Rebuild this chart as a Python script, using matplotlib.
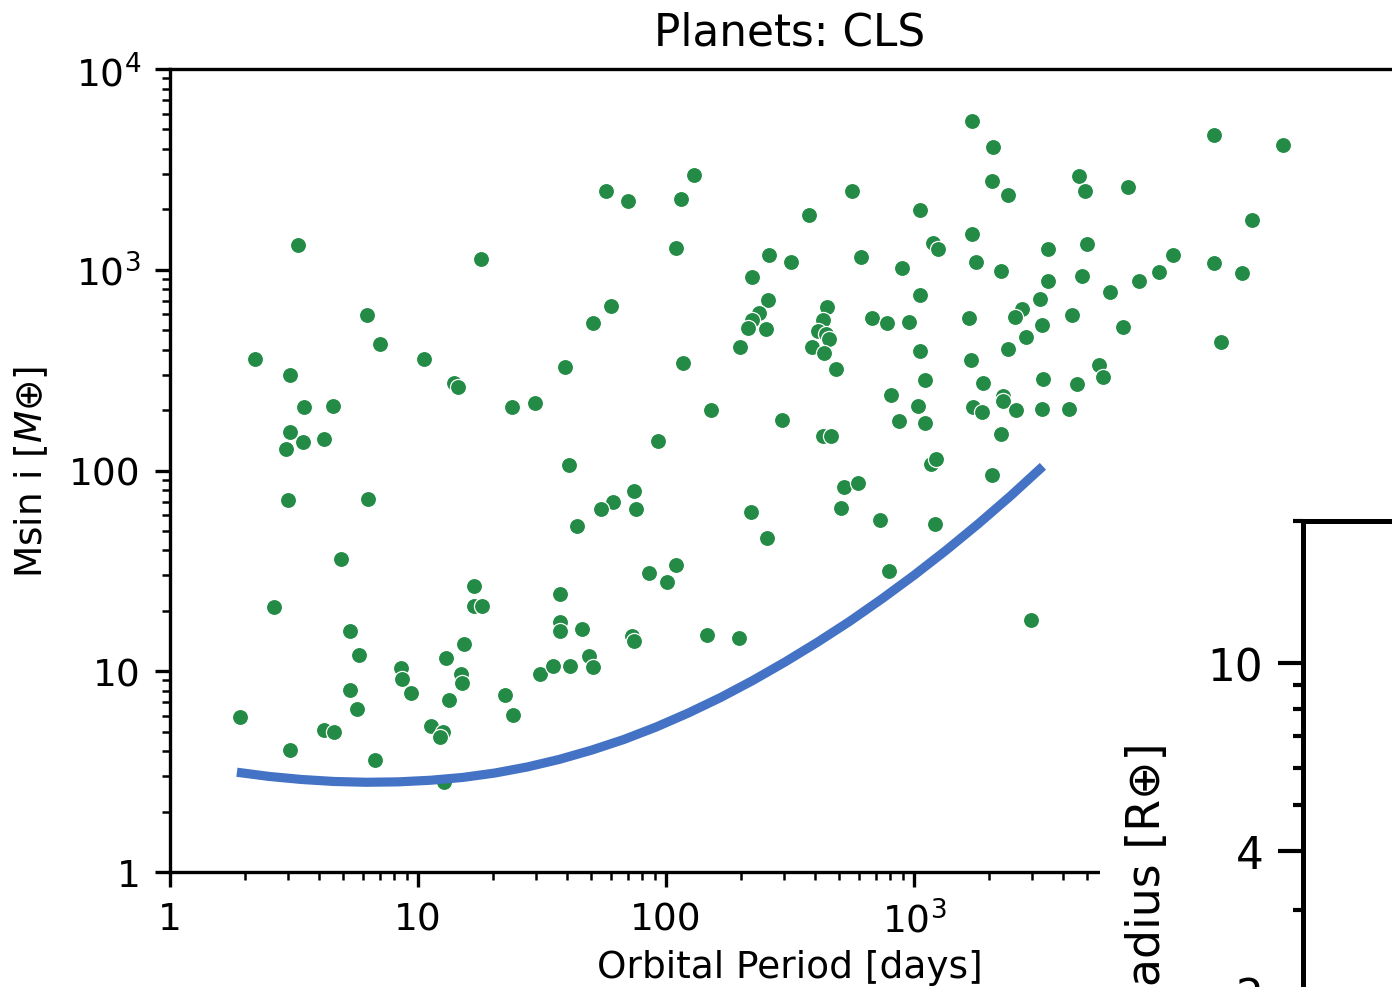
import numpy as np
import matplotlib
matplotlib.use("Agg")
import matplotlib.pyplot as plt
from matplotlib.patches import Rectangle
from matplotlib.ticker import FuncFormatter, LogLocator, FixedLocator, NullFormatter

# planets, stored as log10 values
LOG_PERIOD = [1.758, 1.847, 2.060, 2.113, 0.516, 1.254, 2.040, 0.794, 0.847, 1.778,
              1.706, 0.343, 0.484, 1.024, 1.145, 1.161, 1.593, 2.069, 0.540, 0.657,
              1.379, 1.472, 0.484, 0.536, 0.621, 0.468, 1.968, 1.609, 0.476, 0.798,
              1.871, 1.786, 1.738, 1.879, 1.641, 0.690, 0.419, 1.226, 1.226, 1.258,
              1.573, 1.573, 1.573, 1.661, 1.931, 2.004, 2.040, 1.863, 1.871, 0.726,
              0.762, 1.185, 1.113, 0.931, 0.935, 0.972, 1.173, 1.177, 1.125, 1.351,
              1.383, 1.492, 1.544, 1.613, 1.690, 1.706, 0.726, 0.754, 0.282, 0.621,
              0.661, 0.484, 0.827, 1.052, 1.101, 1.089, 1.105,
              3.234, 3.319, 4.210, 4.488, 3.665, 3.690, 3.863, 3.315, 3.379, 2.750,
              2.577, 3.024, 4.363, 3.234, 2.415, 2.504, 2.786, 3.077, 3.097, 3.540,
              3.698, 3.250, 3.351, 2.952, 4.044, 4.210, 4.323, 2.347, 3.540, 3.677,
              3.907, 3.988, 3.790, 2.411, 3.024, 3.508, 3.435, 3.407, 2.375, 2.347,
              2.331, 2.403, 2.649, 2.633, 2.613, 2.645, 2.657, 2.589, 2.637, 2.685,
              2.831, 2.891, 2.980, 3.222, 3.516, 3.637, 3.843, 3.452, 3.379, 4.238,
              2.298, 3.024, 3.230, 3.044, 3.278, 3.520, 3.657, 3.746, 3.762, 2.907,
              3.359, 3.359, 3.016, 3.238, 3.274, 3.411, 3.516, 3.625, 2.181, 2.468,
              2.940, 3.044, 2.633, 2.665, 3.351, 3.069, 3.089, 3.315, 2.718, 2.774,
              2.343, 2.407, 2.706, 2.863, 3.085, 2.899, 2.165, 2.294, 3.472]
LOG_MSINI = [3.393, 3.343, 3.353, 3.473, 3.124, 3.055, 3.109, 2.776, 2.632, 2.821,
             2.736, 2.557, 2.478, 2.557, 2.438, 2.418, 2.517, 2.537, 2.318, 2.323,
             2.318, 2.338, 2.194, 2.144, 2.159, 2.109, 2.149, 2.030, 1.851, 1.856,
             1.896, 1.841, 1.806, 1.806, 1.726, 1.557, 1.318, 1.423, 1.323, 1.323,
             1.383, 1.244, 1.199, 1.209, 1.488, 1.443, 1.527, 1.174, 1.149, 1.199,
             1.080, 1.134, 1.065, 1.015, 0.960, 0.891, 0.985, 0.940, 0.856, 0.881,
             0.781, 0.985, 1.025, 1.025, 1.075, 1.020, 0.905, 0.811, 0.771, 0.706,
             0.697, 0.607, 0.557, 0.726, 0.697, 0.672, 0.448,
             3.741, 3.612, 3.672, 3.622, 3.468, 3.393, 3.413, 3.443, 3.373, 3.393,
             3.274, 3.299, 3.249, 3.179, 3.075, 3.040, 3.065, 3.134, 3.104, 3.104,
             3.129, 3.040, 2.995, 3.010, 3.075, 3.035, 2.985, 2.965, 2.945, 2.970,
             2.945, 2.990, 2.891, 2.851, 2.876, 2.856, 2.806, 2.766, 2.786, 2.751,
             2.711, 2.706, 2.816, 2.751, 2.697, 2.682, 2.657, 2.617, 2.587, 2.507,
             2.761, 2.736, 2.741, 2.761, 2.726, 2.776, 2.716, 2.667, 2.607, 2.642,
             2.617, 2.597, 2.552, 2.453, 2.438, 2.458, 2.433, 2.527, 2.468, 2.378,
             2.373, 2.348, 2.323, 2.318, 2.294, 2.303, 2.308, 2.308, 2.303, 2.254,
             2.249, 2.239, 2.174, 2.174, 2.184, 2.035, 2.055, 1.980, 1.920, 1.940,
             1.791, 1.662, 1.811, 1.756, 1.736, 1.498, 1.179, 1.164, 1.254]

# detection limit curve (log10)
LIMIT_LOG_PERIOD = [0.27, 0.40, 0.53, 0.66, 0.79, 0.92, 1.05, 1.18, 1.31, 1.44,
                    1.57, 1.70, 1.83, 1.96, 2.09, 2.22, 2.35, 2.48, 2.61, 2.74,
                    2.87, 3.00, 3.13, 3.26, 3.39, 3.52]
LIMIT_LOG_MSINI = [0.497, 0.476, 0.461, 0.451, 0.447, 0.449, 0.457, 0.471, 0.493, 0.523,
                   0.561, 0.607, 0.660, 0.722, 0.792, 0.869, 0.954, 1.046, 1.144, 1.248,
                   1.360, 1.478, 1.603, 1.735, 1.874, 2.021]

period = 10 ** np.array(LOG_PERIOD)
msini = 10 ** np.array(LOG_MSINI)
lim_p = 10 ** np.array(LIMIT_LOG_PERIOD)
lim_m = 10 ** np.array(LIMIT_LOG_MSINI)

GREEN = "#238b45"
BLUE = "#4472c4"


def log_fmt(v, pos):
    if v <= 100:
        return f"{v:g}"
    return r"$10^{%d}$" % round(np.log10(v))


fig = plt.figure(figsize=(4.64, 3.2933), dpi=300)
ax = fig.add_axes([0.1221, 0.1164, 0.8908, 0.8127])
ax.set_xscale("log")
ax.set_yscale("log")
ax.scatter(period, msini, s=15, color=GREEN, edgecolors="white", linewidths=0.3, zorder=2)
ax.plot(lim_p, lim_m, color=BLUE, lw=2.2, solid_capstyle="butt", zorder=3)
ax.set_xlim(1, 1e5)
ax.set_ylim(1, 1e4)
ax.xaxis.set_major_formatter(FuncFormatter(log_fmt))
ax.yaxis.set_major_formatter(FuncFormatter(log_fmt))
ax.tick_params(labelsize=9)
ax.set_title("Planets: CLS", fontsize=10.5)
ax.set_xlabel("Orbital Period [days]", fontsize=9, labelpad=2)
ax.set_ylabel(r"M$\sin\,$i [$M$⊕]", fontsize=9, labelpad=4.5)

# white block where the neighbouring panel sits
fig.add_artist(Rectangle((1100 / 1392, 0), 1 - 1100 / 1392, 0.514,
                         transform=fig.transFigure, facecolor="white",
                         edgecolor="none", zorder=1))

# neighbouring radius panel, mostly outside the frame
ax2 = fig.add_axes([0.936, -0.1498, 0.3, 0.6215], zorder=2)
ax2.set_yscale("log")
ax2.set_ylim(1, 20)
ax2.yaxis.set_major_locator(FixedLocator([2, 4, 10]))
ax2.yaxis.set_minor_locator(LogLocator(subs=np.arange(2, 10)))
ax2.yaxis.set_major_formatter(FuncFormatter(lambda v, p: f"{v:g}"))
ax2.yaxis.set_minor_formatter(NullFormatter())
ax2.set_xticks([])
for sp in ax2.spines.values():
    sp.set_linewidth(1.2)
ax2.tick_params(axis="y", which="major", length=6, width=1.0, labelsize=10.5)
ax2.tick_params(axis="y", which="minor", length=2.4, width=1.0)
ax2.set_ylabel("Radius [R⊕]", fontsize=11)
ax2.yaxis.set_label_coords(1170 / 1392, 0.1098, transform=fig.transFigure)

fig.savefig("out.png", dpi=300)
